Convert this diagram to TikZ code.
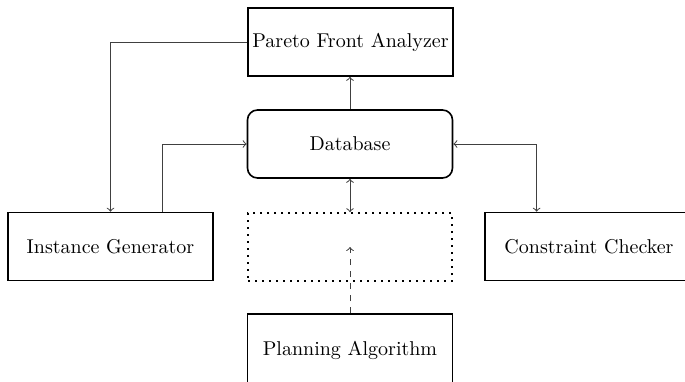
\documentclass[tikz,border=0pt]{standalone}
\usetikzlibrary{calc}
\begin{document}
\begin{tikzpicture}[x=0.5pt,y=-0.5pt,
  box/.style={draw,thick,minimum width=102.5pt,minimum height=34pt,inner sep=2pt},
  dbbox/.style={box,rounded corners=5pt},
  dotbox/.style={draw,thick,dash pattern=on 0.8pt off 2.7pt,minimum width=102pt,minimum height=34pt},
  conn/.style={black!75,line width=0.5pt}]
\useasboundingbox (0,0) rectangle (685,381);
\node[box] (pareto) at (350.5,42) {Pareto Front Analyzer};
\node[dbbox] (db) at (350,144) {Database};
\node[dotbox] (mid) at (350,247) {};
\node[box,minimum height=36pt] (plan) at (350,350) {Planning Algorithm};
\node[box] (inst) at (110.5,246.5) {Instance Generator};
\node[box,minimum width=104pt] (cons) at (589,246.5) {Constraint Checker};
\draw[conn,->] (db) -- (db|-pareto.south);
\draw[conn,->] (pareto.west) -| (inst.north);
\draw[conn,->] ($(inst.north west)!0.75!(inst.north east)$) |- (db.west);
\draw[conn,<->] (db.east) -| ($(cons.north west)!0.25!(cons.north east)$);
\draw[conn,<->] (db) -- (mid);
\draw[conn,dashed,->] (plan) -- (mid.center);
\end{tikzpicture}
\end{document}
